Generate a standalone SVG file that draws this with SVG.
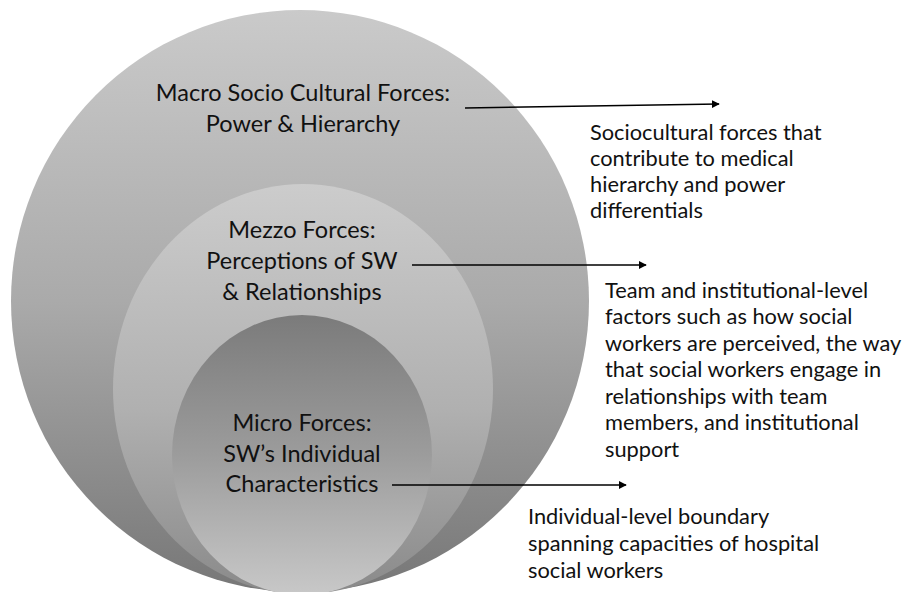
<svg xmlns="http://www.w3.org/2000/svg" width="906" height="592" viewBox="0 0 906 592">
  <style>
    .lbl { font-family: Lato, "Open Sans", "Liberation Sans", sans-serif; font-size: 23.5px; fill: #111; text-anchor: middle; }
    .desc { font-family: Lato, "Open Sans", "Liberation Sans", sans-serif; font-size: 21.8px; fill: #111; }
    .conn { stroke: #000; stroke-width: 1.6; fill: none; marker-end: url(#arrow); }
  </style>
  <defs>
    <linearGradient id="gMacro" x1="0" y1="0" x2="0" y2="1">
      <stop offset="0" stop-color="#cacaca"/>
      <stop offset="0.5" stop-color="#aaaaaa"/>
      <stop offset="1" stop-color="#777777"/>
    </linearGradient>
    <linearGradient id="gMezzo" x1="0" y1="0" x2="0" y2="1">
      <stop offset="0" stop-color="#cccccc"/>
      <stop offset="0.55" stop-color="#b0b0b0"/>
      <stop offset="1" stop-color="#8a8a8a"/>
    </linearGradient>
    <linearGradient id="gMicro" x1="0" y1="0" x2="0" y2="1">
      <stop offset="0" stop-color="#7b7b7b"/>
      <stop offset="0.5" stop-color="#9c9c9c"/>
      <stop offset="1" stop-color="#c8c8c8"/>
    </linearGradient>
    <marker id="arrow" viewBox="0 0 10 10" refX="9" refY="5" markerWidth="5" markerHeight="5" orient="auto" markerUnits="strokeWidth">
      <path d="M0,0 L10,5 L0,10 Z" fill="#000"/>
    </marker>
  </defs>

  <!-- nested force levels -->
  <g id="macro">
    <ellipse cx="300" cy="301" rx="289" ry="291" fill="url(#gMacro)"/>
    <text class="lbl" x="303" y="101">Macro Socio Cultural Forces:</text>
    <text class="lbl" x="303" y="132">Power &amp; Hierarchy</text>
  </g>
  <g id="mezzo">
    <ellipse cx="303" cy="389" rx="190" ry="205" fill="url(#gMezzo)"/>
    <text class="lbl" x="302" y="238">Mezzo Forces:</text>
    <text class="lbl" x="302" y="269">Perceptions of SW</text>
    <text class="lbl" x="302" y="300">&amp; Relationships</text>
  </g>
  <g id="micro">
    <ellipse cx="302" cy="455" rx="130" ry="140" fill="url(#gMicro)"/>
    <text class="lbl" x="302" y="431">Micro Forces:</text>
    <text class="lbl" x="302" y="462">SW’s Individual</text>
    <text class="lbl" x="302" y="492">Characteristics</text>
  </g>

  <!-- descriptions -->
  <g id="desc-macro">
    <text class="desc" x="590" y="140">Sociocultural forces that</text>
    <text class="desc" x="590" y="166">contribute to medical</text>
    <text class="desc" x="590" y="192">hierarchy and power</text>
    <text class="desc" x="590" y="218">differentials</text>
  </g>
  <g id="desc-mezzo">
    <text class="desc" x="605" y="298">Team and institutional-level</text>
    <text class="desc" x="605" y="324">factors such as how social</text>
    <text class="desc" x="605" y="351">workers are perceived, the way</text>
    <text class="desc" x="605" y="377">that social workers engage in</text>
    <text class="desc" x="605" y="404">relationships with team</text>
    <text class="desc" x="605" y="430">members, and institutional</text>
    <text class="desc" x="605" y="457">support</text>
  </g>
  <g id="desc-micro">
    <text class="desc" x="528" y="524">Individual-level boundary</text>
    <text class="desc" x="528" y="551">spanning capacities of hospital</text>
    <text class="desc" x="528" y="578">social workers</text>
  </g>

  <!-- connectors -->
  <g id="connectors">
    <line class="conn" x1="465" y1="108" x2="719" y2="104"/>
    <line class="conn" x1="412" y1="265" x2="646" y2="265"/>
    <line class="conn" x1="392" y1="485" x2="626" y2="485"/>
  </g>
</svg>
